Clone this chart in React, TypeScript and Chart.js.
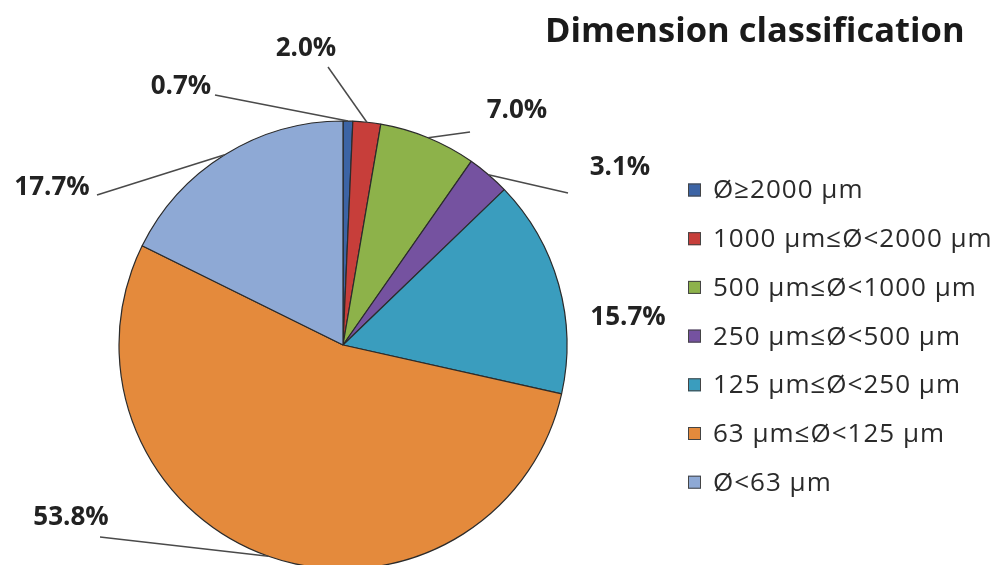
import React, { useEffect, useRef } from "react";
import { Chart, registerables } from "chart.js";

Chart.register(...registerables);

const chartTitle = "Dimension classification";
const categories = [
  "Ø≥2000 μm",
  "1000 μm≤Ø<2000 μm",
  "500 μm≤Ø<1000 μm",
  "250 μm≤Ø<500 μm",
  "125 μm≤Ø<250 μm",
  "63 μm≤Ø<125 μm",
  "Ø<63 μm",
];
const shares = [0.7, 2.0, 7.0, 3.1, 15.7, 53.8, 17.7];
const sliceColors = ["#3C64A5", "#C73E3A", "#8DB24A", "#7552A0", "#3A9DBE", "#E48A3C", "#8EA9D5"];

// label text centre (tx, ty) and leader-line end near the label (lx, ly); null = no leader
const labelLayout: { tx: number; ty: number; lx: number | null; ly: number | null }[] = [
  { tx: 181, ty: 87, lx: 215, ly: 95 },
  { tx: 306, ty: 49, lx: 328, ly: 67 },
  { tx: 517, ty: 111, lx: 470, ly: 132 },
  { tx: 620, ty: 168, lx: 568, ly: 193 },
  { tx: 628, ty: 318, lx: null, ly: null },
  { tx: 71, ty: 518, lx: 100, ly: 537 },
  { tx: 52, ty: 188, lx: 97, ly: 195 },
];

const FONT = "'Open Sans', 'DejaVu Sans', sans-serif";

const overlayPlugin = {
  id: "overlay",
  afterDatasetsDraw(chart: any) {
    const ctx: any = chart.ctx;
    const meta = chart.getDatasetMeta(0);
    ctx.save();
    // leader lines + labels
    meta.data.forEach((arc: any, i: number) => {
      const p = arc.getProps(["x", "y", "startAngle", "endAngle", "outerRadius"], true);
      const mid = (p.startAngle + p.endAngle) / 2;
      const ax = p.x + Math.cos(mid) * p.outerRadius;
      const ay = p.y + Math.sin(mid) * p.outerRadius;
      const lay = labelLayout[i];
      if (lay.lx !== null && lay.ly !== null) {
        ctx.beginPath();
        ctx.moveTo(ax, ay);
        ctx.lineTo(lay.lx, lay.ly);
        ctx.strokeStyle = "#4a4a4a";
        ctx.lineWidth = 1.5;
        ctx.stroke();
      }
      ctx.fillStyle = "#222";
      ctx.font = `bold 26px ${FONT}`;
      ctx.textAlign = "center";
      ctx.textBaseline = "middle";
      ctx.fillText(shares[i].toFixed(1) + "%", lay.tx, lay.ty);
    });
    // title
    ctx.font = `bold 34.5px ${FONT}`;
    ctx.textAlign = "left";
    ctx.textBaseline = "middle";
    ctx.fillStyle = "#1a1a1a";
    ctx.fillText(chartTitle, 545, 32);
    // legend
    ctx.font = `26px ${FONT}`;
    ctx.letterSpacing = "1px";
    categories.forEach((c, i) => {
      const y = 190 + i * 48.7;
      ctx.fillStyle = sliceColors[i];
      ctx.fillRect(688, y - 6.5, 13, 13);
      ctx.strokeStyle = "#444";
      ctx.lineWidth = 1;
      ctx.strokeRect(688.5, y - 6, 12, 12);
      ctx.fillStyle = "#2a2a2a";
      ctx.textAlign = "left";
      ctx.textBaseline = "middle";
      ctx.fillText(c, 713, y + 1);
    });
    ctx.letterSpacing = "0px";
    ctx.restore();
  },
};

export default function App() {
  const ref = useRef<HTMLCanvasElement>(null);
  useEffect(() => {
    document.body.style.margin = "0";
    const chart = new Chart(ref.current as HTMLCanvasElement, {
      type: "pie",
      data: {
        labels: categories,
        datasets: [
          {
            data: shares,
            backgroundColor: sliceColors,
            borderColor: "#2b2b2b",
            borderWidth: 1.2,
            radius: 224,
            clip: false,
          } as any,
        ],
      },
      options: {
        responsive: false,
        animation: false,
        events: [],
        layout: { padding: { left: 0, right: 312, top: 125, bottom: 0 } },
        plugins: { legend: { display: false }, tooltip: { enabled: false }, title: { display: false } },
      },
      plugins: [overlayPlugin],
    });
    return () => chart.destroy();
  }, []);
  return (
    <div style={{ width: 998, height: 565, background: "#fff" }}>
      <canvas ref={ref} width={998} height={565} style={{ display: "block" }} />
    </div>
  );
}
